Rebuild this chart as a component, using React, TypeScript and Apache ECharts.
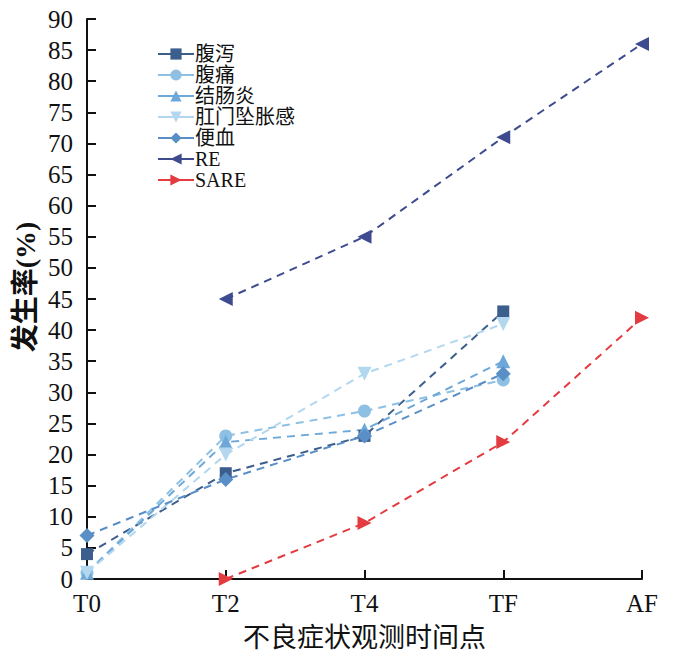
import React, { useEffect, useRef } from "react";
import * as echarts from "echarts";

const categories = ["T0", "T2", "T4", "TF", "AF"];
const yTicks = { min: 0, max: 90, interval: 5 };

const diarrhea = [4, 17, 23, 43, null];
const abdominalPain = [1, 23, 27, 32, null];
const colitis = [1, 22, 24, 35, null];
const tenesmus = [1, 20, 33, 41, null];
const hematochezia = [7, 16, 23, 33, null];
const re = [null, 45, 55, 71, 86];
const sare = [null, 0, 9, 22, 42];

const seriesDefs = [
  { name: "腹泻", data: diarrhea, color: "#3b5e8d", symbol: "rect", rotate: 0, size: 12 },
  { name: "腹痛", data: abdominalPain, color: "#8dc0e3", symbol: "circle", rotate: 0, size: 13 },
  { name: "结肠炎", data: colitis, color: "#6ea8d8", symbol: "triangle", rotate: 0, size: 14 },
  { name: "肛门坠胀感", data: tenesmus, color: "#b2d7ef", symbol: "triangle", rotate: 180, size: 14 },
  { name: "便血", data: hematochezia, color: "#5a8ec6", symbol: "diamond", rotate: 0, size: 15 },
  { name: "RE", data: re, color: "#3e4b8f", symbol: "triangle", rotate: 90, size: 14 },
  { name: "SARE", data: sare, color: "#e33b40", symbol: "triangle", rotate: -90, size: 14 },
];

const FONT = "'Liberation Serif', 'Times New Roman', 'Noto Sans CJK SC', serif";

export default function App() {
  const ref = useRef<HTMLDivElement>(null);
  useEffect(() => {
    if (!ref.current) return;
    const chart = echarts.init(ref.current, undefined, { renderer: "svg" });
    chart.setOption({
      animation: false,
      backgroundColor: "#ffffff",
      grid: { left: 87, right: 58, top: 19, bottom: 82, containLabel: false, outerBoundsMode: "none" },
      legend: {
        orient: "vertical",
        left: 157,
        top: 44,
        padding: 0,
        itemWidth: 36,
        itemHeight: 14,
        itemGap: 1,
        lineStyle: { type: "solid" },
        textStyle: { fontFamily: FONT, fontSize: 20, color: "#111", padding: [0, 0, 0, -4] },
        data: seriesDefs.map((s) => s.name),
      },
      xAxis: {
        type: "category",
        data: categories,
        boundaryGap: false,
        axisLine: { lineStyle: { color: "#111", width: 2 } },
        axisTick: { inside: true, length: 9, lineStyle: { color: "#111", width: 2 } },
        axisLabel: { fontFamily: FONT, fontSize: 25, color: "#111", margin: 12 },
        splitLine: { show: false },
        name: "不良症状观测时间点",
        nameLocation: "middle",
        nameGap: 45,
        nameTextStyle: { fontFamily: FONT, fontSize: 27, color: "#111" },
      },
      yAxis: {
        type: "value",
        min: yTicks.min,
        max: yTicks.max,
        interval: yTicks.interval,
        axisLine: { show: true, lineStyle: { color: "#111", width: 2 } },
        axisTick: { show: true, inside: true, length: 9, lineStyle: { color: "#111", width: 2 } },
        axisLabel: { fontFamily: FONT, fontSize: 25, color: "#111", margin: 14 },
        splitLine: { show: false },
      },
      graphic: [
        {
          type: "text",
          x: 25,
          y: 287,
          rotation: Math.PI / 2,
          style: {
            text: "发生率(%)",
            fontFamily: FONT,
            fontSize: 28,
            fontWeight: "bold",
            fill: "#111",
            align: "center",
            verticalAlign: "middle",
          },
        },
      ],
      series: seriesDefs.map((s) => ({
        name: s.name,
        type: "line",
        data: s.data,
        symbol: s.symbol,
        symbolRotate: s.rotate,
        symbolSize: s.size,
        connectNulls: false,
        itemStyle: { color: s.color },
        lineStyle: { color: s.color, width: 2, type: [8, 6] },
      })),
    });
    return () => chart.dispose();
  }, []);
  return (
    <div
      ref={ref}
      style={{ position: "fixed", left: 0, top: 0, width: 700, height: 661 }}
    />
  );
}
